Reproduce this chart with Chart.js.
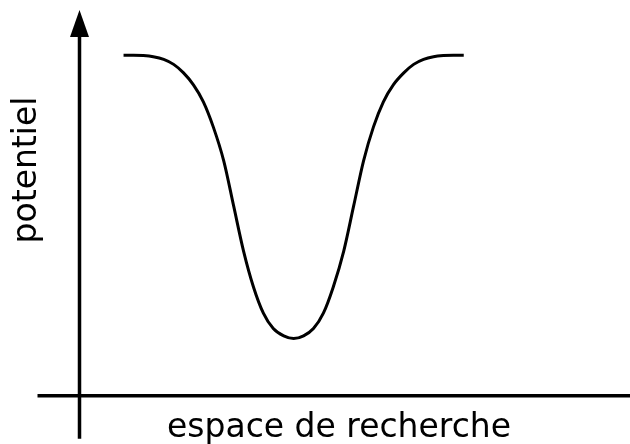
<!DOCTYPE html>
<html>
<head>
<meta charset="utf-8">
<script src="https://cdn.jsdelivr.net/npm/chart.js@4.4.1/dist/chart.umd.min.js"></script>
<style>
  html, body { margin: 0; padding: 0; background: #fff; }
  #wrap { width: 630px; height: 444px; }
</style>
</head>
<body>
<div id="wrap"><canvas id="well"></canvas></div>
<script>
// values (x: espace de recherche, y: potentiel, both 0-100)
const espace = [8.0, 9.8, 11.6, 13.4, 15.3, 17.1, 18.9, 20.7, 22.5, 24.3, 26.2, 28.0, 29.8, 31.6, 33.4, 35.2, 37.1,
                38.9,
                40.7, 42.5, 44.3, 46.1, 48.0, 49.8, 51.6, 53.4, 55.2, 57.0, 58.9, 60.7, 62.5, 64.3, 66.1, 67.9, 69.8];
const potentiel = [88.3, 88.3, 88.2, 87.9, 87.2, 85.9, 83.7, 80.6, 76.2, 69.7, 60.9, 49.2, 37.5, 28.2, 21.4, 17.4, 15.5,
                   14.8,
                   15.5, 17.4, 21.4, 28.2, 37.5, 49.2, 60.9, 69.7, 76.2, 80.6, 83.7, 85.9, 87.2, 87.9, 88.2, 88.3, 88.3];
const xLabel = "espace de recherche";
const yLabel = "potentiel";

const points = espace.map((x, i) => ({ x: x, y: potentiel[i] }));

// draws the two axis lines, the arrow and the two labels
const axesPlugin = {
    id: "axes",
    afterDraw(chart) {
        const ctx = chart.ctx;
        const xs = chart.scales.x;
        const ys = chart.scales.y;
        const x0 = xs.getPixelForValue(0);
        const y0 = ys.getPixelForValue(0);
        const yTop = ys.getPixelForValue(100);

        ctx.save();
        ctx.strokeStyle = "#000";
        ctx.fillStyle = "#000";
        ctx.lineWidth = 3.5;

        // horizontal axis
        ctx.beginPath();
        ctx.moveTo(x0 - 42, y0);
        ctx.lineTo(xs.right, y0);
        ctx.stroke();

        // vertical axis
        ctx.beginPath();
        ctx.moveTo(x0, y0 + 43);
        ctx.lineTo(x0, yTop + 20);
        ctx.stroke();

        // arrow head
        ctx.beginPath();
        ctx.moveTo(x0, yTop);
        ctx.lineTo(x0 - 9.5, yTop + 27);
        ctx.lineTo(x0 + 9.5, yTop + 27);
        ctx.closePath();
        ctx.fill();

        // labels
        ctx.font = "33px 'DejaVu Sans'";
        ctx.textAlign = "center";
        ctx.textBaseline = "alphabetic";
        ctx.fillText(xLabel, 339, 437);

        ctx.translate(36, 170);
        ctx.rotate(-Math.PI / 2);
        ctx.fillText(yLabel, 0, 0);
        ctx.restore();
    }
};

new Chart(document.getElementById("well"), {
    type: "scatter",
    data: {
        datasets: [{
            data: points,
            showLine: true,
            borderColor: "#000",
            borderWidth: 3,
            pointRadius: 0,
            cubicInterpolationMode: "monotone",
            fill: false
        }]
    },
    options: {
        responsive: true,
        maintainAspectRatio: false,
        animation: false,
        layout: { padding: { left: 79.5, right: 0, top: 10, bottom: 48.3 } },
        plugins: { legend: { display: false }, tooltip: { enabled: false } },
        scales: {
            x: { type: "linear", min: 0, max: 100, display: false },
            y: { type: "linear", min: 0, max: 100, display: false }
        }
    },
    plugins: [axesPlugin]
});
</script>
</body>
</html>
